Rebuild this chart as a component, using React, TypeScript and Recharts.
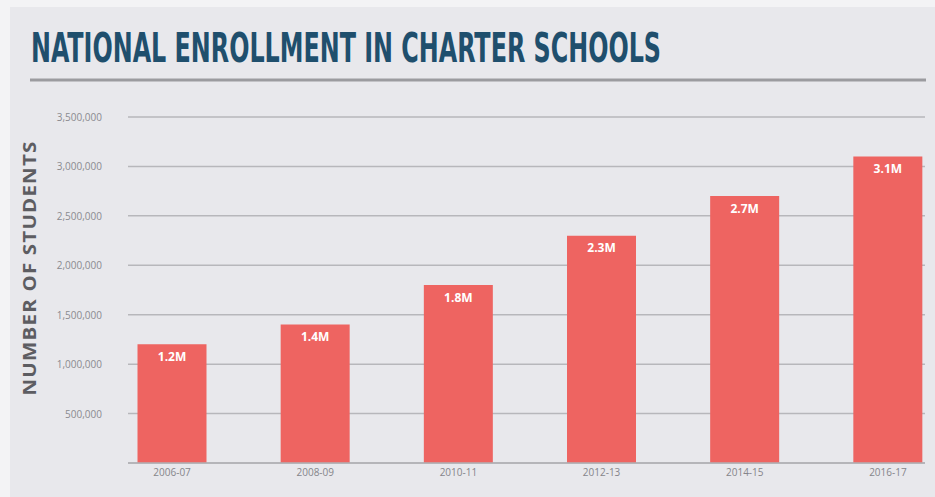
import { Bar, BarChart, CartesianGrid, LabelList, XAxis, YAxis } from "recharts";

const years = ["2006-07", "2008-09", "2010-11", "2012-13", "2014-15", "2016-17"];
const students = [1200000, 1400000, 1800000, 2300000, 2700000, 3100000];
const yTicks = [0, 500000, 1000000, 1500000, 2000000, 2500000, 3000000, 3500000];

const chartData = years.map((year, i) => ({ year, students: students[i] }));

const BAR_COLOR = "#ee6461";

export default function App() {
  return (
    <div
      style={{
        position: "absolute",
        left: 0,
        top: 0,
        width: 935,
        height: 497,
        background: "#f3f3f5",
        overflow: "hidden",
      }}
    >
      <div
        style={{
          position: "absolute",
          left: 10,
          top: 7,
          width: 925,
          height: 490,
          background: "#e8e8ec",
        }}
      />
      <svg
        width={935}
        height={497}
        style={{ position: "absolute", left: 0, top: 0 }}
      >
        <text
          transform="translate(31, 62) scale(1, 1.18)"
          x={0}
          y={0}
          textLength={630}
          lengthAdjust="spacingAndGlyphs"
          fontFamily="'DejaVu Sans Condensed', 'Liberation Sans Narrow', sans-serif"
          fontWeight="bold"
          fontSize={34}
          fill="#1f4f6d"
        >
          NATIONAL ENROLLMENT IN CHARTER SCHOOLS
        </text>
        <line x1={30} x2={926} y1={80} y2={80} stroke="#9b9b9f" strokeWidth={3} />
        <text
          transform="translate(36, 268) rotate(-90)"
          textAnchor="middle"
          textLength={255}
          lengthAdjust="spacingAndGlyphs"
          fontFamily="'Open Sans', sans-serif"
          fontWeight="bold"
          fontSize={17}
          letterSpacing={1}
          fill="#5d5d62"
        >
          NUMBER OF STUDENTS
        </text>
      </svg>
      <div style={{ position: "absolute", left: 0, top: 0 }}>
        <BarChart
          width={935}
          height={497}
          data={chartData}
          margin={{ top: 117, right: 10, bottom: 0, left: 10 }}
          barCategoryGap={0}
        >
          <CartesianGrid vertical={false} stroke="#b7b7bb" strokeWidth={1.5} />
          <XAxis
            dataKey="year"
            height={34}
            padding={{ left: -27.5, right: -34.5 }}
            tickLine={false}
            axisLine={{ stroke: "#b0b0b4", strokeWidth: 1.5 }}
            tick={{ fontSize: 10, fill: "#85858a", fontFamily: "'Open Sans', sans-serif" }}
            tickMargin={0}
          />
          <YAxis
            width={118}
            domain={[0, 3500000]}
            ticks={yTicks}
            tickLine={false}
            axisLine={false}
            tickMargin={10}
            tick={(props: any) =>
              props.payload.value === 0 ? (
                <g />
              ) : (
                <text
                  x={props.x - 10}
                  y={props.y}
                  dy={4}
                  textAnchor="end"
                  fontSize={10}
                  fill="#8a8a8f"
                  fontFamily="'Open Sans', sans-serif"
                >
                  {props.payload.value.toLocaleString("en-US")}
                </text>
              )
            }
          />
          <Bar dataKey="students" fill={BAR_COLOR} barSize={69} isAnimationActive={false}>
            <LabelList
              dataKey="students"
              position="insideTop"
              offset={8}
              fill="#ffffff"
              fontSize={12}
              fontWeight="bold"
              fontFamily="'Open Sans', sans-serif"
              formatter={(v: any) => (Number(v) / 1000000).toFixed(1) + "M"}
            />
          </Bar>
        </BarChart>
      </div>
    </div>
  );
}
